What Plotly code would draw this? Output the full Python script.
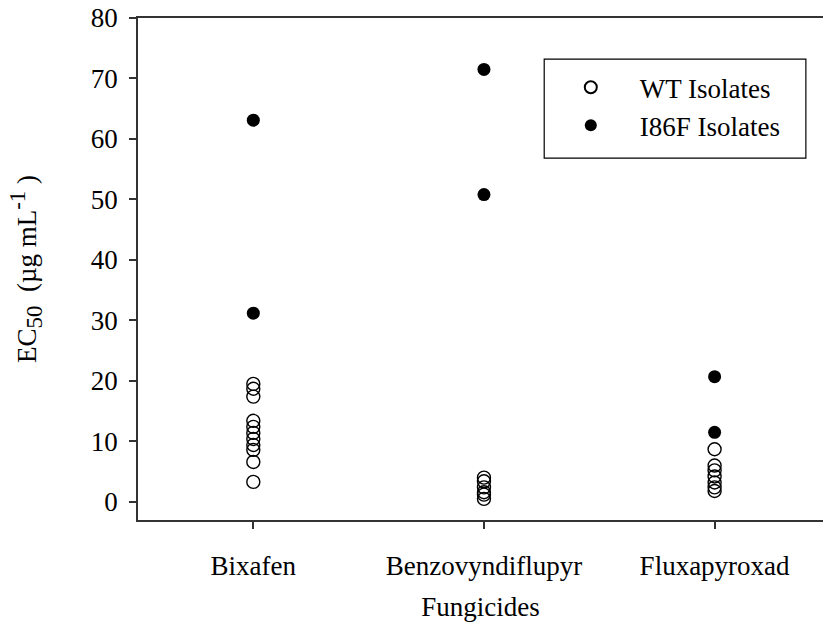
import plotly.graph_objects as go

categories = ["Bixafen", "Benzovyndiflupyr", "Fluxapyroxad"]

wt_bixafen = [19.5, 18.7, 17.4, 13.4, 12.4, 11.4, 10.4, 9.4, 8.6, 6.6, 3.3]
wt_benzo = [4.0, 3.4, 2.4, 1.6, 1.2, 0.5]
wt_fluxa = [8.7, 6.0, 5.2, 4.2, 3.2, 2.4, 1.8]

i86f_bixafen = [63.1, 31.2]
i86f_benzo = [71.5, 50.8]
i86f_fluxa = [20.7, 11.5]

wt_groups = [wt_bixafen, wt_benzo, wt_fluxa]
mut_groups = [i86f_bixafen, i86f_benzo, i86f_fluxa]

font_family = "Liberation Serif"
FS = 27

wt_x, wt_y = [], []
for i, vals in enumerate(wt_groups):
    wt_x += [i] * len(vals)
    wt_y += vals
mut_x, mut_y = [], []
for i, vals in enumerate(mut_groups):
    mut_x += [i] * len(vals)
    mut_y += vals

fig = go.Figure()
fig.add_trace(go.Scatter(
    x=wt_x, y=wt_y, mode="markers", name="WT Isolates",
    legendgroup="wt",
    marker=dict(symbol="circle-open", size=13, color="black",
                line=dict(width=1.4, color="black")),
))
fig.add_trace(go.Scatter(
    x=mut_x, y=mut_y, mode="markers", name="I86F Isolates",
    legendgroup="mut",
    marker=dict(symbol="circle", size=13, color="black"),
))

# legend frame
fig.add_shape(type="rect", xref="paper", yref="paper",
              x0=0.593, x1=0.975, y0=0.721, y1=0.918,
              line=dict(color="black", width=1.2), fillcolor="white", layer="below")

fig.update_layout(
    width=823, height=630,
    margin=dict(l=138, r=0, t=18, b=110),
    plot_bgcolor="white", paper_bgcolor="white",
    font=dict(family=font_family, size=FS, color="black"),
    showlegend=True,
    legend=dict(
        x=0.5895, y=0.910, xanchor="left", yanchor="top",
        borderwidth=0, bgcolor="rgba(0,0,0,0)",
        font=dict(family=font_family, size=FS, color="black"),
        tracegroupgap=0, itemsizing="constant", itemwidth=88,
    ),
    xaxis=dict(
        range=[-0.5, 2.47], tickmode="array", tickvals=[0, 1, 2], ticktext=categories,
        showline=True, linecolor="#333333", linewidth=1.5, mirror=True,
        ticks="outside", ticklen=7, tickcolor="#333333", tickwidth=1.5,
        showgrid=False, zeroline=False,
        ticklabelstandoff=14,
        title=dict(text="Fungicides", standoff=17,
                   font=dict(family=font_family, size=FS)),
    ),
    yaxis=dict(
        range=[-3, 80], tickmode="array", tickvals=[0, 10, 20, 30, 40, 50, 60, 70, 80],
        showline=True, linecolor="#333333", linewidth=1.5,
        ticks="outside", ticklen=7, tickcolor="#333333", tickwidth=1.5,
        showgrid=False, zeroline=False,
        ticklabelstandoff=6,
        title=dict(text='EC<sub><span style="font-size:23px">50</span></sub>  (µg mL<sup><span style="font-size:23px">-1</span></sup> )',
                   standoff=46,
                   font=dict(family=font_family, size=FS)),
    ),
)

fig.write_html("out.html")
